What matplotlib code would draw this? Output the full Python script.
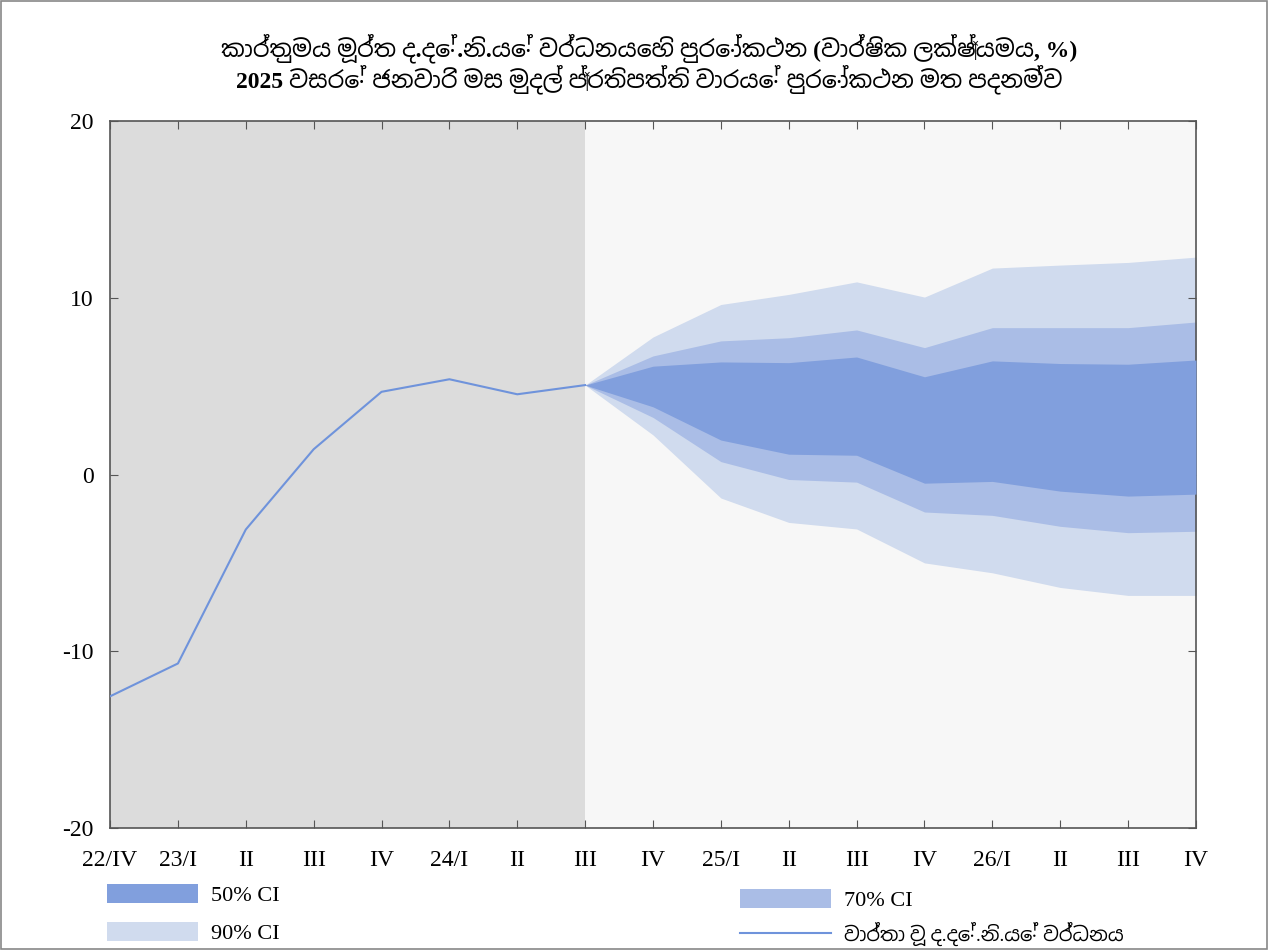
import numpy as np
import matplotlib
matplotlib.use("Agg")
import matplotlib.pyplot as plt
from matplotlib.patches import Patch, Rectangle
from matplotlib.lines import Line2D

plt.rcParams['font.family'] = ['Liberation Serif', 'Noto Sans Sinhala', 'Noto Serif Sinhala', 'DejaVu Sans']
plt.rcParams['axes.unicode_minus'] = False

quarters = ['22/IV', '23/I', 'II', 'III', 'IV', '24/I', 'II', 'III', 'IV',
            '25/I', 'II', 'III', 'IV', '26/I', 'II', 'III', 'IV']

# actual growth, 22/IV .. 24/III
actual = [-12.55, -10.69, -3.11, 1.43, 4.68, 5.39, 4.54, 5.06]

# forecast bands, 24/III .. 26/IV
upper_90 = [5.06, 7.78, 9.62, 10.19, 10.90, 10.04, 11.68, 11.85, 12.00, 12.30]
upper_70 = [5.06, 6.71, 7.56, 7.74, 8.18, 7.18, 8.31, 8.31, 8.31, 8.63]
upper_50 = [5.06, 6.13, 6.37, 6.33, 6.65, 5.53, 6.43, 6.28, 6.24, 6.48]
lower_50 = [5.06, 3.83, 1.95, 1.15, 1.09, -0.49, -0.39, -0.94, -1.22, -1.11]
lower_70 = [5.06, 3.23, 0.73, -0.28, -0.43, -2.12, -2.31, -2.93, -3.29, -3.21]
lower_90 = [5.06, 2.24, -1.33, -2.71, -3.08, -5.00, -5.56, -6.39, -6.84, -6.84]

c50 = '#819fdd'
c70 = '#aabde6'
c90 = '#d0dbee'
cline = '#6f93db'

fig = plt.figure(figsize=(12.68, 9.5), dpi=100)
ax = fig.add_axes([0.0868, 0.1284, 0.8564, 0.7442])

x_hist = np.arange(len(actual))
x_fc = np.arange(len(actual) - 1, len(quarters))

ax.axvspan(0, len(actual) - 1, color='#dcdcdc', zorder=0, lw=0)
ax.axvspan(len(actual) - 1, len(quarters) - 1, color='#f7f7f7', zorder=0, lw=0)

ax.fill_between(x_fc, lower_90, upper_90, color=c90, lw=0, zorder=1)
ax.fill_between(x_fc, lower_70, upper_70, color=c70, lw=0, zorder=2)
ax.fill_between(x_fc, lower_50, upper_50, color=c50, lw=0, zorder=3)
ax.plot(x_hist, actual, color=cline, lw=1.5, zorder=4)

ax.set_xlim(0, len(quarters) - 1)
ax.set_ylim(-20, 20)
ax.set_yticks([-20, -10, 0, 10, 20])
ax.set_xticks(np.arange(len(quarters)))
ax.set_xticklabels(quarters)
ax.tick_params(direction='in', top=True, right=True, labelsize=17, length=6,
               color='#555555')
ax.tick_params(axis='x', pad=16)
ax.tick_params(axis='y', pad=12)
for s in ax.spines.values():
    s.set_color('#555555')
    s.set_linewidth(1.2)

fig.text(0.512, 0.949, 'කාර්තුමය මූර්ත ද.දේ.නි.යේ වර්ධනයෙහි පුරෝකථන (වාර්ෂික ලක්ෂ්‍යමය, %)',
         ha='center', va='center', fontsize=17, fontweight='bold')
fig.text(0.512, 0.917, '2025 වසරේ ජනවාරි මස මුදල් ප්‍රතිපත්ති වාරයේ පුරෝකථන මත පදනම්ව',
         ha='center', va='center', fontsize=17, fontweight='bold')

leg_kw = dict(frameon=False, fontsize=16, handlelength=4.1, handleheight=0.9,
              handletextpad=0.6, borderpad=0, borderaxespad=0, loc='upper left')
fig.legend([Patch(color=c50, lw=0), Patch(color=c90, lw=0)],
           ['50% CI', '90% CI'], bbox_to_anchor=(0.0844, 0.069),
           labelspacing=0.72, **leg_kw)
leg2 = fig.legend([Patch(color=c70, lw=0), Line2D([], [], color=cline, lw=1.5)],
                  ['70% CI', 'වාර්තා වූ ද.දේ.නි.යේ වර්ධනය'],
                  bbox_to_anchor=(0.5836, 0.064), labelspacing=0.5, **leg_kw)
leg2.get_texts()[1].set_fontsize(14)

fig.patches.append(Rectangle((0.001, 0.001), 0.998, 0.998, transform=fig.transFigure,
                             fill=False, edgecolor='#888888', lw=1.2))

fig.savefig('out.png', dpi=100)
